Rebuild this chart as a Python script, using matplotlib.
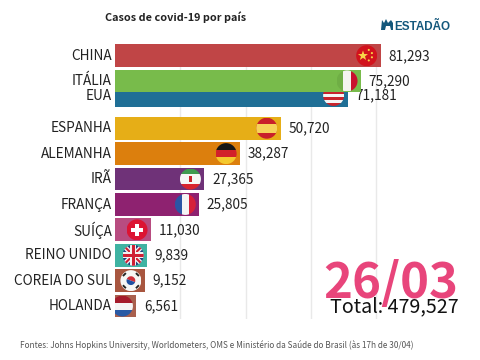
import numpy as np
import matplotlib
matplotlib.use("Agg")
import matplotlib.pyplot as plt
from matplotlib.patches import Circle, Rectangle, Polygon, Wedge
from matplotlib.transforms import Affine2D, ScaledTranslation

plt.rcParams['font.family'] = ['Noto Sans CJK SC', 'DejaVu Sans']

paises = ["CHINA", "ITÁLIA", "EUA", "ESPANHA", "ALEMANHA", "IRÃ", "FRANÇA", "SUÍÇA",
          "REINO UNIDO", "COREIA DO SUL", "HOLANDA"]
casos = [81293, 75290, 71181, 50720, 38287, 27365, 25805, 11030, 9839, 9152, 6561]
# posicao do ranking no meio da animacao (por isso nao sao inteiros)
ranking = [0.146, 1.14, 1.71, 3, 4, 5, 6, 7, 8, 9, 10]
cores = ["#c04546", "#78bb4b", "#1f6f96", "#e6ae17", "#dc7f0d", "#6f3278", "#8e2270",
         "#b84c80", "#3fb3a2", "#a8563f", "#a9604e"]
titulo = "Casos de covid-19 por país"
data_txt = "26/03"
total_txt = "Total: 479,527"
fonte_txt = "Fontes: Johns Hopkins University, Worldometers, OMS e Ministério da Saúde do Brasil (às 17h de 30/04)"

# ordem de desenho: Italia fica por cima dos EUA
ordem = [5, 6, 4, 3, 3, 3, 3, 3, 3, 3, 3]
RAIO = 10.5
RECUO = 14


def desenha_bandeira(ax, pais, cx, cy, z):
    tr = Affine2D().scale(RAIO).translate(cx, cy)
    clip = Circle((0, 0), 1, transform=tr)

    def extra(p):
        ax.add_patch(p)
        p.set_clip_path(clip)

    def a(x0, y0, x1, y1, cor):
        extra(Rectangle((x0, y0), x1 - x0, y1 - y0, fc=cor, ec="none", transform=tr, zorder=z))

    if pais == "CHINA":
        a(-1, -1, 1, 1, "#d2121c")
        ang = np.pi / 2 + np.arange(10) * np.pi / 5
        rr = np.where(np.arange(10) % 2 == 0, 0.5, 0.2)
        extra(Polygon(np.c_[-0.35 + rr * np.cos(ang), rr * np.sin(ang)], fc="#f8d548", ec="none",
                      transform=tr, zorder=z))
        for x, y in [(0.2, 0.55), (0.5, 0.25), (0.5, -0.15), (0.2, -0.45)]:
            extra(Circle((x, y), 0.1, fc="#f8d548", ec="none", transform=tr, zorder=z))
    elif pais == "ITÁLIA":
        a(-1, -1, -0.36, 1, "#6fae45"), a(-0.36, -1, 0.36, 1, "#f4f4f0"), a(0.36, -1, 1, 1, "#c9102e")
    elif pais == "EUA":
        for i in range(7):
            a(-1, -1 + i * 2 / 7, 1, -1 + (i + 1) * 2 / 7, "#c8232c" if i % 2 == 0 else "#f5f5f5")
        a(-1, 0.3, 1, 1, "#1f4a80")
    elif pais == "ESPANHA":
        a(-1, -1, 1, 1, "#c9202a"), a(-1, -0.42, 1, 0.42, "#f6d45a")
    elif pais == "ALEMANHA":
        a(-1, 0.33, 1, 1, "#161616"), a(-1, -0.33, 1, 0.33, "#d2202a"), a(-1, -1, 1, -0.33, "#f4c82e")
    elif pais == "IRÃ":
        a(-1, 0.45, 1, 1, "#3f9a50"), a(-1, -0.45, 1, 0.45, "#f6f6f6"), a(-1, -1, 1, -0.45, "#d8232f")
        extra(Rectangle((-0.15, -0.3), 0.3, 0.55, fc="#c8232c", ec="none", transform=tr, zorder=z))
    elif pais == "FRANÇA":
        a(-1, -1, -0.33, 1, "#2b55a5"), a(-0.33, -1, 0.33, 1, "#f5f5f5"), a(0.33, -1, 1, 1, "#d5213a")
    elif pais == "SUÍÇA":
        a(-1, -1, 1, 1, "#dc1433"), a(-0.55, -0.18, 0.55, 0.18, "#ffffff"), a(-0.18, -0.55, 0.18, 0.55, "#ffffff")
    elif pais == "REINO UNIDO":
        a(-1, -1, 1, 1, "#22407f")
        for s, cor, w in [(1, "#f2f2f2", 0.16), (-1, "#f2f2f2", 0.16), (1, "#cf1f33", 0.07), (-1, "#cf1f33", 0.07)]:
            extra(Polygon([(-1 - w, -s + s * w), (-1 + w, -s - s * w), (1 + w, s - s * w), (1 - w, s + s * w)],
                          fc=cor, ec="none", transform=tr, zorder=z))
        a(-1, -0.28, 1, 0.28, "#f2f2f2"), a(-0.28, -1, 0.28, 1, "#f2f2f2")
        a(-1, -0.15, 1, 0.15, "#cf1f33"), a(-0.15, -1, 0.15, 1, "#cf1f33")
    elif pais == "COREIA DO SUL":
        a(-1, -1, 1, 1, "#f6f6f4")
        extra(Wedge((0, 0), 0.42, -20, 160, fc="#cd2e3a", ec="none", transform=tr, zorder=z))
        extra(Wedge((0, 0), 0.42, 160, 340, fc="#1f4fa0", ec="none", transform=tr, zorder=z))
        for sx, sy in [(-1, 1), (1, 1), (-1, -1), (1, -1)]:
            ang = 45 * sx * sy
            extra(Rectangle((sx * 0.62 - 0.2, sy * 0.58 - 0.09), 0.4, 0.18, angle=-ang, rotation_point="center",
                            fc="#222222", ec="none", transform=tr, zorder=z))
    elif pais == "HOLANDA":
        a(-1, 0.33, 1, 1, "#a51c2c"), a(-1, -0.33, 1, 0.33, "#f5f5f5"), a(-1, -1, 1, -0.33, "#2a5aa5")


fig = plt.figure(figsize=(4.8, 3.6), dpi=100)
ax = fig.add_axes([115 / 480, 1 - 319 / 360, 365 / 480, 275 / 360])
ax.set_xlim(0, 111690)
ax.set_ylim(10.51, -0.315)
for lado in ax.spines.values():
    lado.set_visible(False)
ax.set_xticks([20000, 40000, 60000, 80000])
ax.set_xticklabels([])
ax.tick_params(axis="x", length=0)
ax.grid(axis="x", color="#e9e9e9", lw=1)
ax.set_axisbelow(True)
ax.set_yticks(ranking, paises, fontsize=9.8, color="#222222")
ax.tick_params(axis="y", length=0, pad=2.2)
# sobe um pouco os nomes
for lab in ax.get_yticklabels():
    lab.set_transform(lab.get_transform() + ScaledTranslation(0, 1 / 72, fig.dpi_scale_trans))

for i in range(len(paises)):
    ax.barh(ranking[i], casos[i], height=0.894, color=cores[i], zorder=ordem[i])
    ax.annotate(f"{casos[i]:,}", (casos[i], ranking[i]), xytext=(5.4, 1), textcoords="offset points",
                va="center_baseline", ha="left", fontsize=9.8, color="#222222", zorder=ordem[i])

fig.canvas.draw()
for i in range(len(paises)):
    px, py = ax.transData.transform((casos[i], ranking[i]))
    desenha_bandeira(ax, paises[i], px - RECUO, py, ordem[i] + 0.5)

fig.text(105 / 480, 1 - 17 / 360, titulo, fontsize=7.8, fontweight="bold", color="#222222", va="center")
fig.text(20 / 480, 1 - 345 / 360, fonte_txt, fontsize=5.92, color="#555555", va="center")

# logo
fig.text(394 / 480, 1 - 29.5 / 360, "ESTADÃO", fontsize=8.4, fontweight="bold", color="#14587c", va="baseline",
         family="Liberation Sans")
cavalo = [(381, 30), (382, 20), (384, 23), (386, 19), (388, 23), (391, 20), (393, 23), (393, 30), (391, 30), (390, 26),
          (386, 26), (385, 30)]
fig.add_artist(Polygon([(x / 480, 1 - y / 360) for x, y in cavalo], fc="#14587c", ec="none",
                       transform=fig.transFigure))

fig.text(458 / 480, 1 - 298 / 360, data_txt, fontsize=35.4, fontweight="bold", color="#e8457b", ha="right",
         va="baseline")
fig.text(459 / 480, 1 - 312 / 360, total_txt, fontsize=14.2, color="#111111", ha="right", va="baseline")

fig.savefig("out.png", dpi=100)
